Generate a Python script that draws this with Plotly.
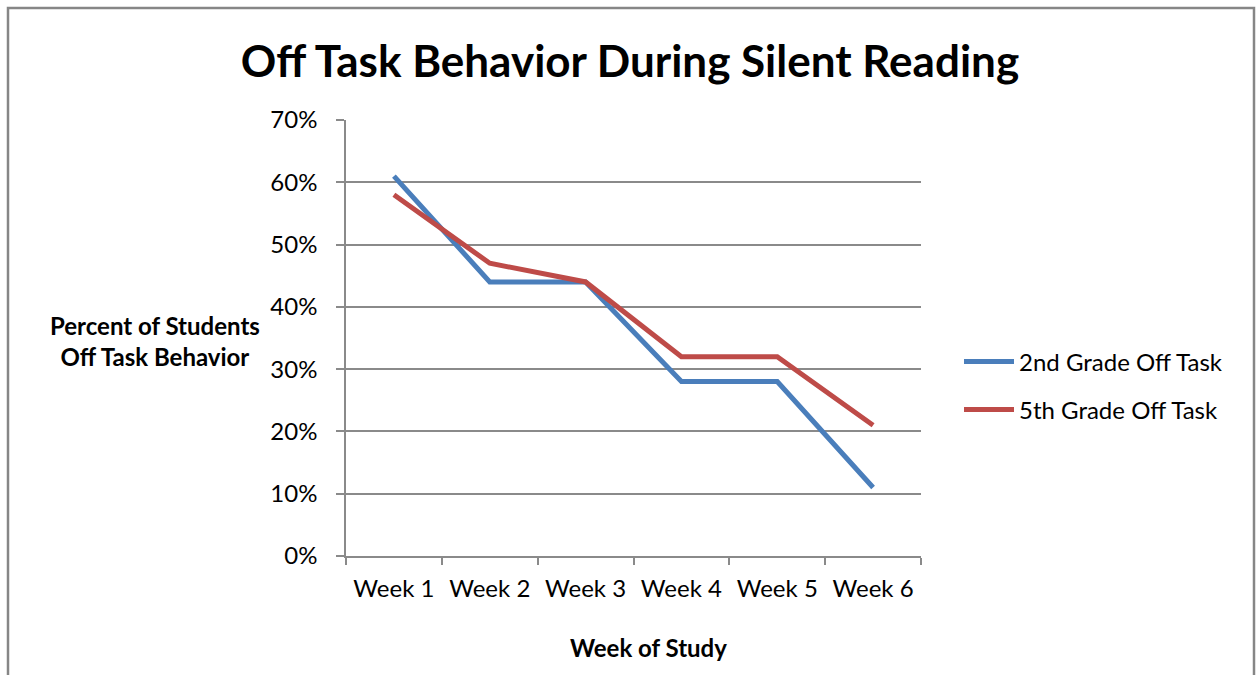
import plotly.graph_objects as go

weeks = ["Week 1", "Week 2", "Week 3", "Week 4", "Week 5", "Week 6"]
grade2 = [0.61, 0.44, 0.44, 0.28, 0.28, 0.11]
grade5 = [0.58, 0.47, 0.44, 0.32, 0.32, 0.21]
series_names = ["2nd Grade Off Task", "5th Grade Off Task"]
title_text = "Off Task Behavior During Silent Reading"
y_title = "Percent of Students<br>Off Task Behavior"
x_title = "Week of Study"

W, H = 1259, 675
L, R, T, B = 346, 921, 120, 556
FONT = "Lato, Carlito, Calibri, sans-serif"
GRAY = "#8a8a8a"
FS = 24

def px(x):
    return (x - L) / (R - L)

def py(y):
    return (B - y) / (B - T)

fig = go.Figure()
fig.add_trace(go.Scatter(x=weeks, y=grade2, mode="lines", name=series_names[0],
                         line=dict(color="#4A7EBB", width=5), legend="legend"))
fig.add_trace(go.Scatter(x=weeks, y=grade5, mode="lines", name=series_names[1],
                         line=dict(color="#BE4B48", width=5), legend="legend2"))

fig.update_layout(
    width=W, height=H,
    margin=dict(l=L, r=W - R, t=T, b=H - B, autoexpand=False),
    paper_bgcolor="white", plot_bgcolor="white",
    font=dict(family=FONT, size=FS, color="black"),
    title=dict(text=title_text, x=630 / W, xanchor="center", y=1 - 62 / H, yanchor="middle",
               font=dict(family=FONT, size=44, color="black", weight="bold")),
    xaxis=dict(type="category", range=[-0.5, 5.5], showgrid=False, showline=True,
               linecolor=GRAY, linewidth=1.5, ticks="outside", tickson="boundaries",
               ticklen=7, tickcolor=GRAY, tickwidth=1.5, ticklabelstandoff=10,
               tickfont=dict(size=FS), zeroline=False, fixedrange=True),
    yaxis=dict(range=[0, 0.7], dtick=0.1, tickformat=".0%", showgrid=True,
               gridcolor=GRAY, gridwidth=1.5, showline=True, linecolor=GRAY, linewidth=1.5,
               ticks="outside", ticklen=8, tickcolor=GRAY, tickwidth=1.5,
               ticklabelstandoff=14,
               tickfont=dict(size=FS), zeroline=False, fixedrange=True),
    legend=dict(x=px(959), y=py(362), xanchor="left", yanchor="middle",
                font=dict(size=FS), bgcolor="rgba(0,0,0,0)", itemwidth=50),
    legend2=dict(x=px(959), y=py(410), xanchor="left", yanchor="middle",
                 font=dict(size=FS), bgcolor="rgba(0,0,0,0)", itemwidth=50),
    showlegend=True,
)

fig.add_annotation(text=y_title, xref="paper", yref="paper", x=px(155), y=py(341),
                   xanchor="center", yanchor="middle", showarrow=False, align="center",
                   font=dict(family=FONT, size=FS, color="black", weight="bold"))
fig.add_annotation(text=x_title, xref="paper", yref="paper", x=px(648), y=py(647),
                   xanchor="center", yanchor="middle", showarrow=False,
                   font=dict(family=FONT, size=FS, color="black", weight="bold"))

fig.add_shape(type="rect", xref="paper", yref="paper", x0=px(8), x1=px(1254),
              y0=py(690), y1=py(8), line=dict(color="#868686", width=2.5), layer="below")

fig.write_html("out.html", config={"displayModeBar": False},
               post_script="document.body.style.margin='0';document.body.style.overflow='hidden';")
